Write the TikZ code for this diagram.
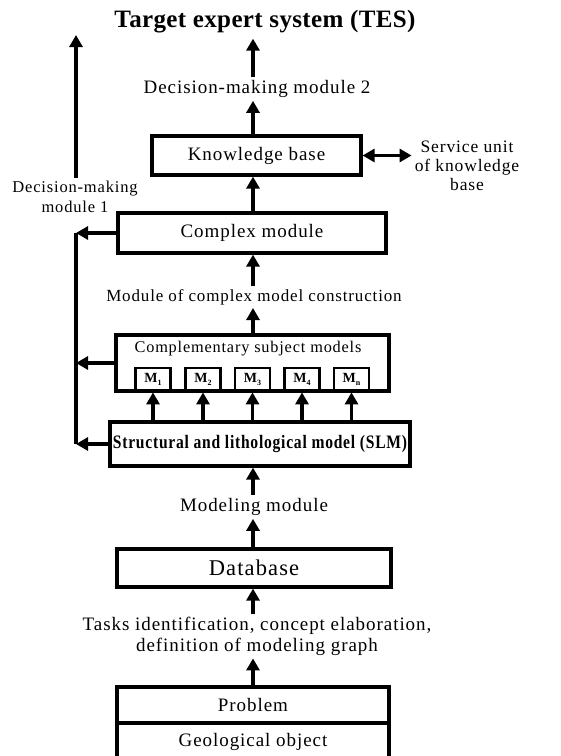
\documentclass[tikz,border=0pt]{standalone}
\usepackage{fontspec}
\setmainfont{Liberation Serif}[LetterSpace=5]
\newfontfamily\titlefont{Liberation Serif}[LetterSpace=1.5]
\newfontfamily\slmfont{Liberation Serif}[FakeStretch=0.82,LetterSpace=4]
\usetikzlibrary{arrows.meta}
\newcommand{\msub}[1]{M\raisebox{-3pt}{\fontsize{8}{8}\selectfont #1}}
\tikzset{every picture/.style={x=1pt,y=-1pt}}
\tikzset{box/.style={draw,line width=3.2pt,inner sep=0pt,font=\fontsize{19}{22}\selectfont}}
\tikzset{mbox/.style={draw,line width=2.8pt,minimum width=35,minimum height=23,inner sep=0pt,font=\fontsize{14}{14}\selectfont\bfseries}}
\tikzset{lbl/.style={inner sep=3pt,align=center,font=\fontsize{19}{22}\selectfont}}
\tikzset{edge/.style={line width=3.2pt,-{Triangle[length=12pt,width=13pt]}}}
\tikzset{twoway/.style={line width=3.2pt,{Triangle[length=12pt,width=13pt]}-{Triangle[length=12pt,width=13pt]}}}
\tikzset{rail/.style={line width=3.2pt}}

\begin{document}
\begin{tikzpicture}
\useasboundingbox (0,0) rectangle (561,756);
\coordinate (ax) at (253,0);
\coordinate (lft) at (76,0);
\coordinate (dm1tip) at (76,35);

\node [lbl,font=\titlefont\fontsize{25}{28}\selectfont\bfseries,inner sep=5pt] (tes) at (265,22) {Target expert system (TES)};
\node [lbl] (dm2) at (257,89) {Decision-making module 2};
\node [box,minimum width=209,minimum height=39] (kb) at (256.5,155.5) {Knowledge base};
\node [lbl,font=\fontsize{17.5}{19}\selectfont] (svc) at (467,166) {Service unit\\of knowledge\\base};
\node [lbl,font=\fontsize{16.5}{20}\selectfont] (dm1) at (75,197) {Decision-making\\module 1};

\node [box,minimum width=268,minimum height=40] (cm) at (252,233) {Complex module};
\node [lbl,font=\fontsize{17}{20}\selectfont] (mcmc) at (254,297) {Module of complex model construction};

\node [box,minimum width=273,minimum height=56] (csm) at (252.5,363) {};
\node [inner sep=0pt,font=\fontsize{16.3}{18}\selectfont] (csmt) at (248,349) {Complementary subject models};
\node [mbox] (m1) at (153,379.5) {\msub{1}};
\node [mbox] (m2) at (203,379.5) {\msub{2}};
\node [mbox] (m3) at (252.5,379.5) {\msub{3}};
\node [mbox] (m4) at (302,379.5) {\msub{4}};
\node [mbox] (m5) at (351.5,379.5) {\msub{n}};

\node [box,minimum width=300,minimum height=44,font=\slmfont\fontsize{19}{22}\selectfont\bfseries] (slm) at (260,444) {Structural and lithological model (SLM)};
\node [lbl] (mm) at (254,507) {Modeling module};
\node [box,minimum width=274,minimum height=38,font=\fontsize{22.5}{26}\selectfont] (db) at (254,568) {Database};
\node [lbl,font=\fontsize{19}{21}\selectfont] (tasks) at (257,636) {Tasks identification, concept elaboration,\\definition of modeling graph};
\node [box,minimum width=272,minimum height=36] (prob) at (253,705) {Problem};
\node [box,minimum width=272,minimum height=37] (geo) at (253,741.5) {Geological object};

\draw [edge] (dm2.north -| ax) -- (tes.south -| ax);
\draw [edge] (kb.north -| ax) -- (dm2.south -| ax);
\draw [edge] (cm.north -| ax) -- (kb.south -| ax);
\draw [edge] (mcmc.north -| ax) -- (cm.south -| ax);
\draw [edge] (csm.north -| ax) -- (mcmc.south -| ax);

\foreach \m in {m1,m2,m3,m4,m5}
  \draw [edge] (slm.north -| \m.south) -- (\m.south);

\draw [edge] (mm.north -| ax) -- (slm.south -| ax);
\draw [edge] (db.north -| ax) -- (mm.south -| ax);
\draw [edge] (tasks.north -| ax) -- (db.south -| ax);
\draw [edge] (prob.north -| ax) -- (tasks.south -| ax);

\draw [twoway] (kb.east) -- (kb.east -| svc.west);

\draw [rail] (cm.west -| lft) -- (slm.west -| lft);
\draw [edge] (cm.west) -- (cm.west -| lft);
\draw [edge] (csm.west) -- (csm.west -| lft);
\draw [edge] (slm.west) -- (slm.west -| lft);
\draw [edge] (dm1.north -| lft) -- (dm1tip);
\end{tikzpicture}
\end{document}
